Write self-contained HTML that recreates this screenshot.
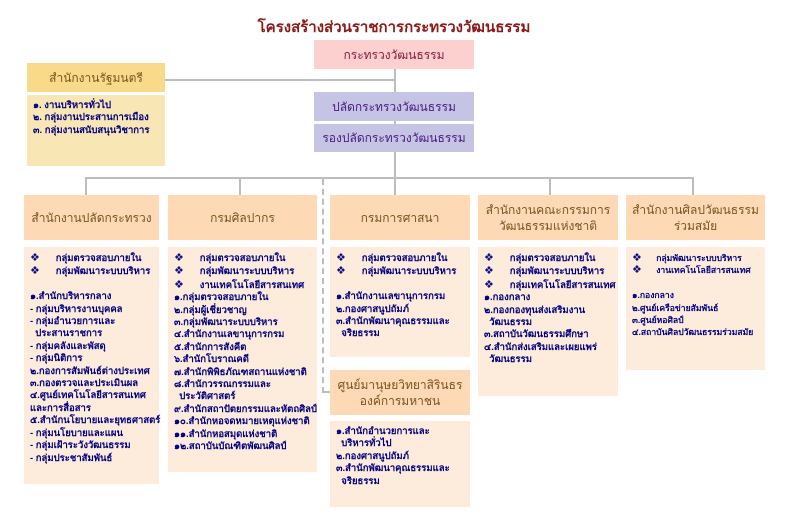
<!DOCTYPE html>
<html><head><meta charset="utf-8"><style>
body{margin:0;width:788px;height:525px;background:#fff;position:relative;overflow:hidden;font-family:"Liberation Sans","DejaVu Sans",sans-serif}
div{position:absolute;box-sizing:border-box}
.h{background:#fdd9b5;color:#7a5520;font-size:12px;text-align:center;display:flex;align-items:center;justify-content:center;line-height:16px}
.b{background:#fdecdc;color:#000080;font-size:9.5px;line-height:12.4px;padding:5px 6px;white-space:pre;font-weight:bold}
.b i{font-style:normal;font-size:11px;color:#101080}
.l{background:#bdbdbd}
</style></head><body>
<div style="left:0;width:788px;top:15px;text-align:center;color:#8b1a1a;font-weight:bold;font-size:15px">โครงสร้างส่วนราชการกระทรวงวัฒนธรรม</div>
<div class="l" style="left:394px;top:69px;width:2px;height:110px"></div>
<div class="l" style="left:164px;top:79px;width:231px;height:2px"></div>
<div class="l" style="left:85px;top:177px;width:609px;height:2px"></div>
<div class="l" style="left:85px;top:178px;width:2px;height:17px"></div>
<div class="l" style="left:239px;top:178px;width:2px;height:17px"></div>
<div class="l" style="left:394px;top:178px;width:2px;height:17px"></div>
<div class="l" style="left:549px;top:178px;width:2px;height:17px"></div>
<div class="l" style="left:692px;top:178px;width:2px;height:17px"></div>
<div style="left:322px;top:179px;width:8px;height:214px;border-left:2px dashed #bdbdbd;border-bottom:2px dashed #bdbdbd"></div>
<div class="h" style="left:314px;top:40px;width:160px;height:29px;background:#fdd0d0;color:#8b1a3a">กระทรวงวัฒนธรรม</div>
<div class="h" style="left:27px;top:63px;width:138px;height:29px;background:#f9d98a">สำนักงานรัฐมนตรี</div>
<div class="b" style="left:27px;top:95px;width:138px;height:71px;background:#f9e6b5">๑. งานบริหารทั่วไป
๒. กลุ่มงานประสานการเมือง
๓. กลุ่มงานสนับสนุนวิชาการ</div>
<div class="h" style="left:314px;top:92px;width:160px;height:29px;background:#c5c4e4;color:#4b1a80">ปลัดกระทรวงวัฒนธรรม</div>
<div class="h" style="left:314px;top:124px;width:160px;height:28px;background:#c5c4e4;color:#4b1a80">รองปลัดกระทรวงวัฒนธรรม</div>

<div class="h" style="left:24px;top:195px;width:135px;height:45px">สำนักงานปลัดกระทรวง</div>
<div class="b" style="left:24px;top:247px;width:135px;height:237px"><i>❖</i>      กลุ่มตรวจสอบภายใน
<i>❖</i>      กลุ่มพัฒนาระบบบริหาร

๑.สำนักบริหารกลาง
- กลุ่มบริหารงานบุคคล
- กลุ่มอำนวยการและ
  ประสานราชการ
- กลุ่มคลังและพัสดุ
- กลุ่มนิติการ
๒.กองการสัมพันธ์ต่างประเทศ
๓.กองตรวจและประเมินผล
๔.ศูนย์เทคโนโลยีสารสนเทศ
และการสื่อสาร
๕.สำนักนโยบายและยุทธศาสตร์
- กลุ่มนโยบายและแผน
- กลุ่มเฝ้าระวังวัฒนธรรม
- กลุ่มประชาสัมพันธ์</div>

<div class="h" style="left:168px;top:195px;width:149px;height:45px">กรมศิลปากร</div>
<div class="b" style="left:168px;top:247px;width:149px;height:225px"><i>❖</i>      กลุ่มตรวจสอบภายใน
<i>❖</i>      กลุ่มพัฒนาระบบบริหาร
<i>❖</i>      งานเทคโนโลยีสารสนเทศ
๑.กลุ่มตรวจสอบภายใน
๒.กลุ่มผู้เชี่ยวชาญ
๓.กลุ่มพัฒนาระบบบริหาร
๔.สำนักงานเลขานุการกรม
๕.สำนักการสังคีต
๖.สำนักโบราณคดี
๗.สำนักพิพิธภัณฑสถานแห่งชาติ
๘.สำนักวรรณกรรมและ
  ประวัติศาสตร์
๙.สำนักสถาปัตยกรรมและหัตถศิลป์
๑๐.สำนักหอจดหมายเหตุแห่งชาติ
๑๑.สำนักหอสมุดแห่งชาติ
๑๒.สถาบันบัณฑิตพัฒนศิลป์</div>

<div class="h" style="left:330px;top:195px;width:140px;height:45px">กรมการศาสนา</div>
<div class="b" style="left:330px;top:247px;width:140px;height:110px"><i>❖</i>      กลุ่มตรวจสอบภายใน
<i>❖</i>      กลุ่มพัฒนาระบบบริหาร

๑.สำนักงานเลขานุการกรม
๒.กองศาสนูปถัมภ์
๓.สำนักพัฒนาคุณธรรมและ
  จริยธรรม</div>

<div class="h" style="left:330px;top:370px;width:140px;height:45px">ศูนย์มานุษยวิทยาสิรินธร<br>องค์การมหาชน</div>
<div class="b" style="left:330px;top:421px;width:140px;height:86px">๑.สำนักอำนวยการและ
  บริหารทั่วไป
๒.กองศาสนูปถัมภ์
๓.สำนักพัฒนาคุณธรรมและ
  จริยธรรม</div>

<div class="h" style="left:478px;top:195px;width:140px;height:45px">สำนักงานคณะกรรมการ<br>วัฒนธรรมแห่งชาติ</div>
<div class="b" style="left:478px;top:247px;width:140px;height:149px"><i>❖</i>      กลุ่มตรวจสอบภายใน
<i>❖</i>      กลุ่มพัฒนาระบบบริหาร
<i>❖</i>      กลุ่มเทคโนโลยีสารสนเทศ
๑.กองกลาง
๒.กองกองทุนส่งเสริมงาน
  วัฒนธรรม
๓.สถาบันวัฒนธรรมศึกษา
๔.สำนักส่งเสริมและเผยแพร่
  วัฒนธรรม</div>

<div class="h" style="left:626px;top:195px;width:139px;height:45px">สำนักงานศิลปวัฒนธรรม<br>ร่วมสมัย</div>
<div class="b" style="left:626px;top:247px;width:139px;height:123px;font-size:8.6px;line-height:12.4px"><i>❖</i>      กลุ่มพัฒนาระบบบริหาร
<i>❖</i>      งานเทคโนโลยีสารสนเทศ

๑.กองกลาง
๒.ศูนย์เครือข่ายสัมพันธ์
๓.ศูนย์หอศิลป์
๔.สถาบันศิลปวัฒนธรรมร่วมสมัย</div>
</body></html>
